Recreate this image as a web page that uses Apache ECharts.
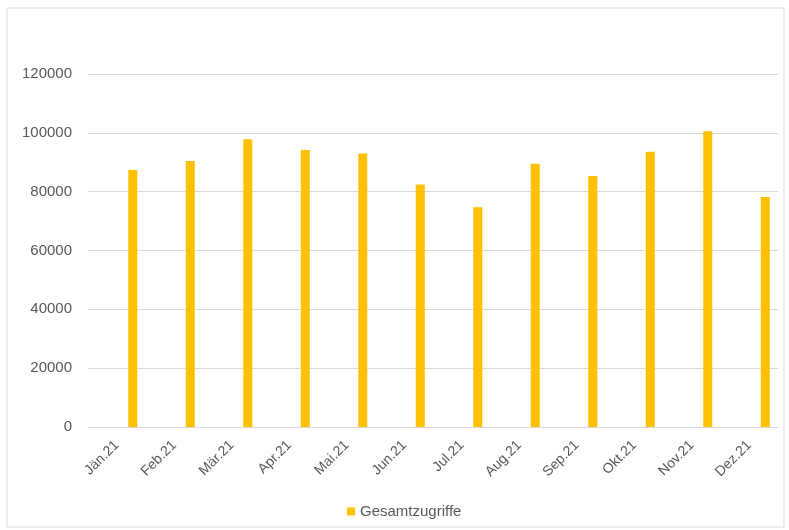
<!DOCTYPE html>
<html><head><meta charset="utf-8">
<script src="https://cdn.jsdelivr.net/npm/echarts@6/dist/echarts.min.js"></script>
<style>html,body{margin:0;padding:0;background:#fff}#c{width:789px;height:530px}</style>
</head><body><div id="c"></div>
<script>
const categories = ['Jän.21','Feb.21','Mär.21','Apr.21','Mai.21','Jun.21','Jul.21','Aug.21','Sep.21','Okt.21','Nov.21','Dez.21'];
const gesamtzugriffe = [87400, 90400, 97800, 94200, 93000, 82400, 74700, 89500, 85300, 93600, 100500, 78200];
const yTicks = [0, 20000, 40000, 60000, 80000, 100000, 120000];

const chart = echarts.init(document.getElementById('c'), null, {renderer:'canvas'});
const txt = '#595959';
const font = 'Liberation Sans';
chart.setOption({
  animation:false,
  graphic:[{type:'rect',shape:{x:7,y:8,width:777,height:519},style:{fill:'none',stroke:'#d9d9d9',lineWidth:1},silent:true}],
  grid:{left:88,right:11,top:74,bottom:103,containLabel:false},
  legend:{data:['Gesamtzugriffe'],top:499,left:342,itemWidth:8,itemHeight:8,icon:'rect',itemGap:5,
    textStyle:{color:txt,fontFamily:font,fontSize:15}},
  xAxis:{type:'category',data:categories,
    axisLine:{lineStyle:{color:'#d9d9d9',width:1}},axisTick:{show:false},
    axisLabel:{color:txt,fontFamily:font,fontSize:14,rotate:45,margin:16,interval:0}},
  yAxis:{type:'value',min:yTicks[0],max:yTicks[yTicks.length-1],interval:20000,
    axisLine:{show:false},axisTick:{show:false},
    splitLine:{lineStyle:{color:'#d9d9d9',width:1}},
    axisLabel:{color:txt,fontFamily:font,fontSize:15,margin:16,formatter:v=>String(v)}},
  series:[
    {name:'_dummy',type:'bar',data:categories.map(()=>null),barWidth:9,silent:true},
    {name:'Gesamtzugriffe',type:'bar',data:gesamtzugriffe,barWidth:9,barGap:'256%',itemStyle:{color:'#FFC000'}}
  ]
});
</script></body></html>
